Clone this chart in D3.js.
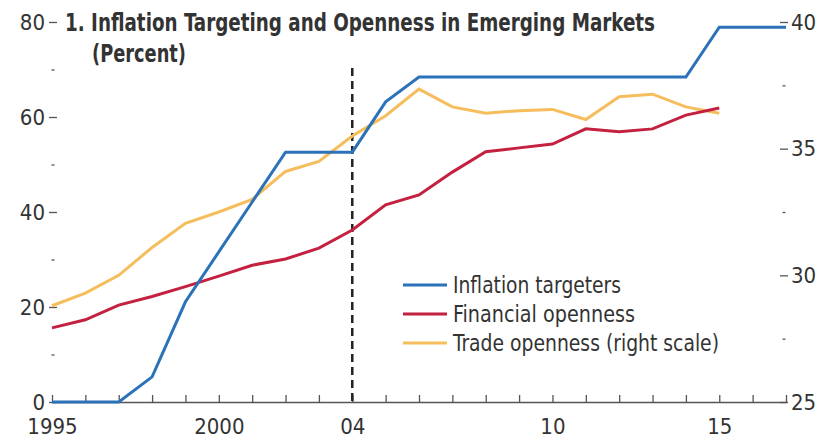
<!DOCTYPE html>
<html>
<head>
  <title>Inflation Targeting and Openness in Emerging Markets</title>
  <script src="https://d3js.org/d3.v7.min.js"></script>
  <style>
    body { margin: 0; background: #fff; }
    svg text { font-family: "Liberation Sans Narrow", "DejaVu Sans Condensed", "Arial Narrow", sans-serif; fill: #333; }
  </style>
</head>
<body>
  <svg width="822" height="443"></svg>
  <script>
    // data
    var years = d3.range(1995, 2018);
    var targeters = [0, 0, 0, 5.3, 21.1, 31.6, 42.1, 52.6, 52.6, 52.6, 63.2, 68.4,
                     68.4, 68.4, 68.4, 68.4, 68.4, 68.4, 68.4, 68.4, 78.9, 78.9, 78.9];
    var finYears = d3.range(1995, 2016);
    var financial = [15.6, 17.3, 20.4, 22.2, 24.3, 26.5, 28.8, 30.1, 32.4, 36.2, 41.5,
                     43.6, 48.4, 52.7, 53.5, 54.3, 57.5, 56.9, 57.5, 60.4, 61.9];
    var trade = [28.8, 29.3, 30.0, 31.1, 32.05, 32.5, 33.0, 34.1, 34.5, 35.5, 36.3,
                 37.35, 36.65, 36.4, 36.5, 36.55, 36.15, 37.05, 37.15, 36.65, 36.4];
    var leftTicks = [0, 20, 40, 60, 80];
    var rightTicks = [25, 30, 35, 40];
    var yearLabels = {1995: "1995", 2000: "2000", 2004: "04", 2010: "10", 2015: "15"};
    var legendItems = ["Inflation targeters", "Financial openness", "Trade openness (right scale)"];
    var legendWidths = [168, 182, 266];

    var svg = d3.select("svg");
    var x = d3.scaleLinear().domain([1995, 2017]).range([52, 786]),
        yL = d3.scaleLinear().domain([0, 80]).range([402, 22]),
        yR = d3.scaleLinear().domain([25, 40]).range([402, 22]);

    var colors = ["#2b72b9", "#c4203f", "#f6bd5c"];

    // left axis
    svg.append("g").attr("class", "noline").attr("transform", "translate(57,0)")
      .call(d3.axisLeft(yL).tickValues(leftTicks).tickSize(8).tickPadding(4));
    svg.append("g").attr("class", "noline").attr("transform", "translate(54.5,0)")
      .call(d3.axisLeft(yL).tickValues([10, 30, 50, 70]).tickSize(3).tickFormat(""));

    // right axis
    svg.append("g").attr("class", "noline").attr("transform", "translate(780,0)")
      .call(d3.axisRight(yR).tickValues(rightTicks).tickSize(8).tickPadding(3));
    svg.append("g").attr("class", "noline").attr("transform", "translate(782.5,0)")
      .call(d3.axisRight(yR).tickValues([27.5, 32.5, 37.5]).tickSize(3).tickFormat(""));

    // bottom axis, ticks pointing up
    svg.append("g").attr("transform", "translate(0,402)")
      .call(d3.axisBottom(x).tickValues(years).tickSize(-7).tickSizeOuter(0).tickFormat(""));
    svg.append("g").attr("class", "noline").attr("transform", "translate(0,402)")
      .call(d3.axisBottom(x).tickValues([1995, 2000, 2004, 2010, 2015]).tickSize(0).tickPadding(16)
        .tickFormat(function(d) { return yearLabels[d]; }));

    svg.selectAll(".noline .domain").remove();
    svg.selectAll(".domain").attr("stroke", "#555").attr("stroke-width", 1.3);
    svg.selectAll(".tick line").attr("stroke", "#555").attr("stroke-width", 1.3);
    svg.selectAll(".tick text").style("font-size", "22px").attr("fill", "#333");

    // dashed line at 2004
    svg.append("line")
      .attr("x1", x(2004)).attr("x2", x(2004))
      .attr("y1", 68).attr("y2", 402)
      .attr("stroke", "#222").attr("stroke-width", 2.5).attr("stroke-dasharray", "8,5");

    var lineL = d3.line().x(function(d) { return x(d[0]); }).y(function(d) { return yL(d[1]); });
    var lineR = d3.line().x(function(d) { return x(d[0]); }).y(function(d) { return yR(d[1]); });

    svg.append("path").datum(d3.zip(finYears, trade))
      .attr("d", lineR).attr("fill", "none").attr("stroke", colors[2]).attr("stroke-width", 3);
    svg.append("path").datum(d3.zip(finYears, financial))
      .attr("d", lineL).attr("fill", "none").attr("stroke", colors[1]).attr("stroke-width", 3);
    svg.append("path").datum(d3.zip(years, targeters))
      .attr("d", lineL).attr("fill", "none").attr("stroke", colors[0]).attr("stroke-width", 3);

    // title
    svg.append("text").attr("x", 65).attr("y", 31)
      .attr("textLength", 590).attr("lengthAdjust", "spacingAndGlyphs")
      .style("font-size", "24px").style("font-weight", "bold").attr("fill", "#231f20")
      .text("1. Inflation Targeting and Openness in Emerging Markets");
    svg.append("text").attr("x", 92).attr("y", 62)
      .attr("textLength", 94).attr("lengthAdjust", "spacingAndGlyphs")
      .style("font-size", "24px").style("font-weight", "bold").attr("fill", "#231f20")
      .text("(Percent)");

    // legend
    var leg = svg.selectAll(".leg").data(legendItems).enter().append("g")
      .attr("transform", function(d, i) { return "translate(403," + (285 + i * 29) + ")"; });
    leg.append("line").attr("x1", 0).attr("x2", 44)
      .attr("stroke", function(d, i) { return colors[i]; }).attr("stroke-width", 3);
    leg.append("text").attr("x", 50).attr("y", 8)
      .attr("textLength", function(d, i) { return legendWidths[i]; })
      .attr("lengthAdjust", "spacingAndGlyphs")
      .style("font-size", "23px").text(function(d) { return d; });
  </script>
</body>
</html>
